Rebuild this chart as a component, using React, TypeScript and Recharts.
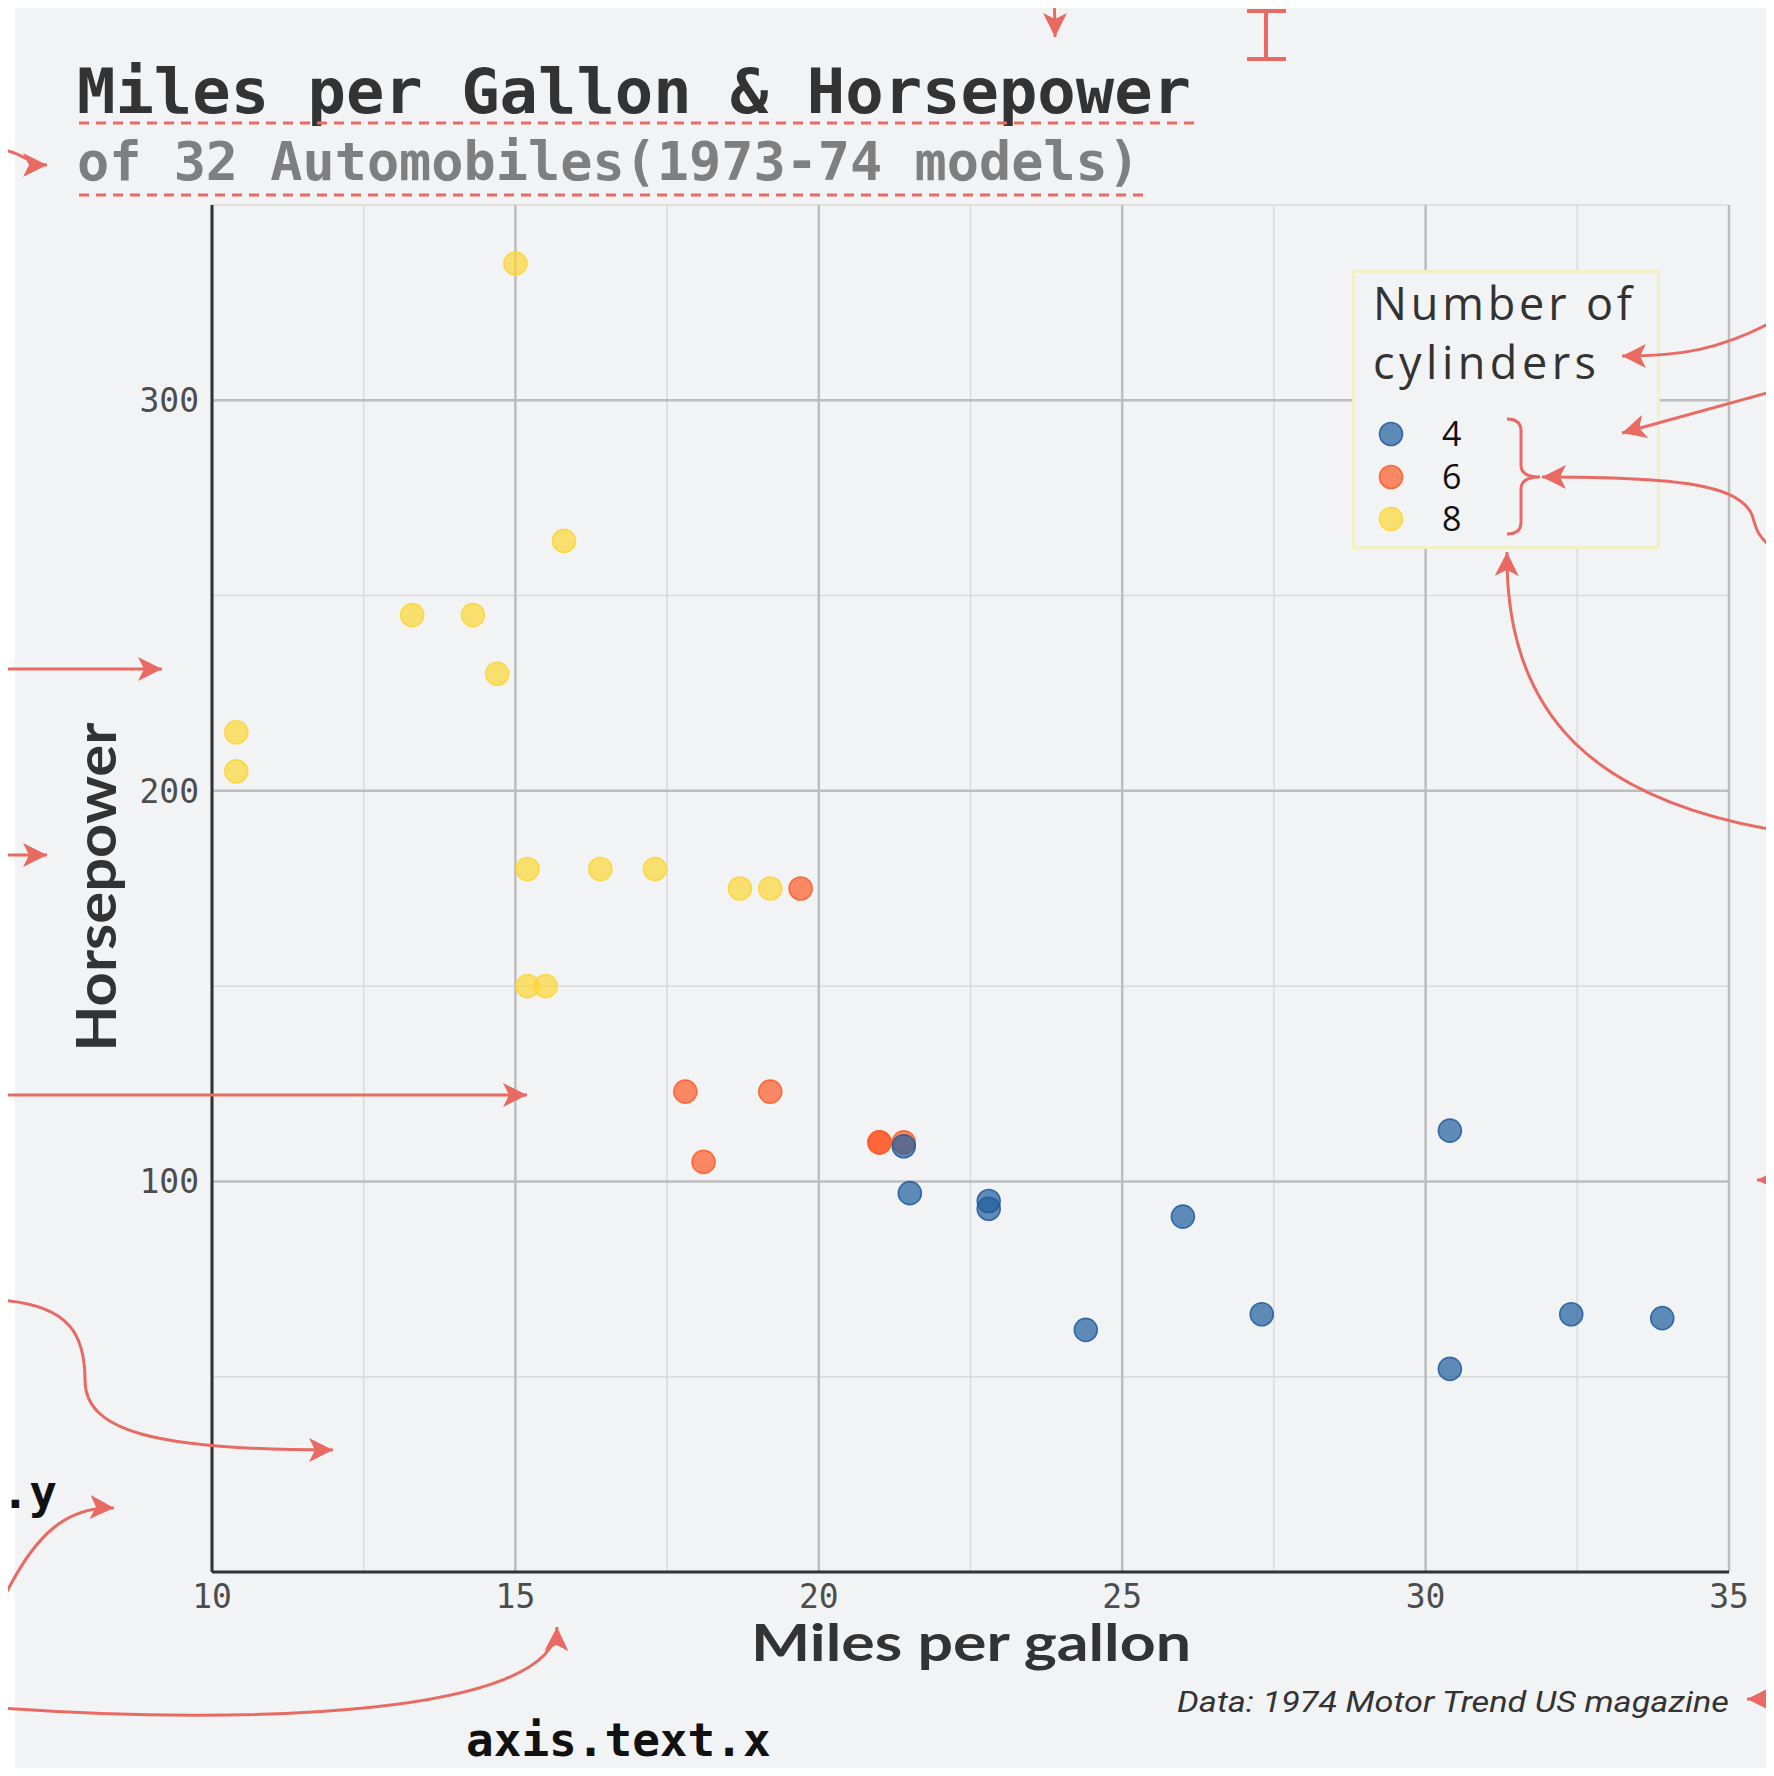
import React from "react";
import {
  ScatterChart,
  Scatter,
  XAxis,
  YAxis,
  ReferenceLine,
  Legend,
} from "recharts";

// ---- data (mtcars: miles per gallon & horsepower) ----
const mpg4 = [22.8, 24.4, 22.8, 32.4, 30.4, 33.9, 21.5, 27.3, 26.0, 30.4, 21.4];
const hp4 = [93, 62, 95, 66, 52, 65, 97, 66, 91, 113, 109];
const mpg6 = [21.0, 21.0, 21.4, 18.1, 19.2, 17.8, 19.7];
const hp6 = [110, 110, 110, 105, 123, 123, 175];
const mpg8 = [18.7, 14.3, 16.4, 17.3, 15.2, 10.4, 10.4, 14.7, 15.5, 15.2, 13.3, 19.2, 15.8, 15.0];
const hp8 = [175, 245, 180, 180, 180, 205, 215, 230, 150, 150, 245, 175, 264, 335];

const cylinders = ["4", "6", "8"];
const cylColors = ["#1f5c9c", "#ff5a26", "#fcd535"];

const xMajorTicks = [10, 15, 20, 25, 30, 35];
const xMinorTicks = [12.5, 17.5, 22.5, 27.5, 32.5];
const yMajorTicks = [100, 200, 300];
const yMinorTicks = [50, 150, 250, 350];
const xDomain = [10, 35];
const yDomain = [0, 350];

const title = "Miles per Gallon & Horsepower";
const subtitle = "of 32 Automobiles(1973-74 models)";
const xTitle = "Miles per gallon";
const yTitle = "Horsepower";
const caption = "Data: 1974 Motor Trend US magazine";
const legendTitle = ["Number of", "cylinders"];

const zip = (xs: number[], ys: number[]) => xs.map((x, i) => ({ mpg: x, hp: ys[i] }));
const data4 = zip(mpg4, hp4);
const data6 = zip(mpg6, hp6);
const data8 = zip(mpg8, hp8);

const PANEL = "#f2f3f5";
const RED = "#e96a63";
const MONO = "'DejaVu Sans Mono', monospace";

const makeDot = (color: string) => (props: any) => {
  const { cx, cy } = props;
  if (cx == null || cy == null) return <g />;
  return (
    <circle
      cx={cx}
      cy={cy}
      r={11.5}
      fill={color}
      fillOpacity={0.7}
      stroke={color}
      strokeOpacity={0.85}
      strokeWidth={1.6}
    />
  );
};

const LegendBox = (props: any) => {
  const payload = (props.payload || []).slice().sort(
    (a: any, b: any) => Number(a.value) - Number(b.value)
  );
  const rowsY = [164, 207, 249];
  return (
    <div
      style={{
        width: 308,
        height: 279,
        boxSizing: "border-box",
        border: "3px solid #f3f0c8",
        background: PANEL,
        position: "relative",
      }}
    >
      <svg width={308} height={279} style={{ position: "absolute", left: -3, top: -3 }}>
        <text x={21} y={50} fontFamily="'Open Sans', sans-serif" fontSize={45} fill="#333" textLength={259} lengthAdjust="spacing">
          {legendTitle[0]}
        </text>
        <text x={21} y={109} fontFamily="'Open Sans', sans-serif" fontSize={45} fill="#333" textLength={223} lengthAdjust="spacing">
          {legendTitle[1]}
        </text>
        {payload.map((p: any, i: number) => (
          <g key={p.value}>
            <circle cx={39} cy={rowsY[i]} r={11.5} fill={p.color} fillOpacity={0.7} stroke={p.color} strokeOpacity={0.85} strokeWidth={1.6} />
            <text x={90} y={rowsY[i] + 12} fontFamily="'Open Sans', sans-serif" fontSize={34} fill="#111">
              {p.value}
            </text>
          </g>
        ))}
      </svg>
    </div>
  );
};

const Overlay = () => (
  <svg
    width={1774}
    height={1776}
    style={{ position: "absolute", left: -8, top: -8, pointerEvents: "none", zIndex: 10 }}
  >
    <defs>
      <marker id="ah" markerUnits="userSpaceOnUse" markerWidth={26} markerHeight={26} refX={24} refY={12} orient="auto" viewBox="0 0 26 26">
        <path d="M0,0 L24,12 L0,24 L6,12 Z" fill={RED} />
      </marker>
    </defs>
    {/* titles */}
    <text x={77} y={113} fontFamily={MONO} fontWeight="bold" fontSize={63} fill="#333" textLength={1114} lengthAdjust="spacingAndGlyphs">
      {title}
    </text>
    <line x1={79} x2={1194} y1={123} y2={123} stroke={RED} strokeWidth={3} strokeDasharray="10 7" />
    <text x={77} y={180} fontFamily={MONO} fontWeight="bold" fontSize={53} fill="#7f7f7f" textLength={1063} lengthAdjust="spacingAndGlyphs">
      {subtitle}
    </text>
    <line x1={79} x2={1143} y1={195} y2={195} stroke={RED} strokeWidth={3} strokeDasharray="10 7" />

    {/* axis titles */}
    <text x={971} y={1661} textAnchor="middle" fontFamily="Lato, sans-serif" fontWeight="bold" fontSize={51} fill="#333" textLength={440} lengthAdjust="spacingAndGlyphs">
      {xTitle}
    </text>
    <g transform="translate(116,887) rotate(-90)">
      <text x={0} y={0} textAnchor="middle" fontFamily="Lato, sans-serif" fontWeight="bold" fontSize={55} fill="#333" textLength={329} lengthAdjust="spacingAndGlyphs">
        {yTitle}
      </text>
    </g>
    <text x={1729} y={1712} textAnchor="end" fontFamily="Roboto, sans-serif" fontStyle="italic" fontSize={30} fill="#333" textLength={552} lengthAdjust="spacingAndGlyphs">
      {caption}
    </text>

    {/* annotation labels */}
    <text x={466} y={1756} fontFamily={MONO} fontWeight="bold" fontSize={46} fill="#111">
      axis.text.x
    </text>
    <text x={57} y={1508} textAnchor="end" fontFamily={MONO} fontWeight="bold" fontSize={46} fill="#111">
      axis.text.y
    </text>

    {/* I-beam */}
    <path d="M1247,11 H1286 M1266,11 V59 M1247,59 H1286" stroke={RED} strokeWidth={4} fill="none" />

    {/* brace */}
    <path
      d="M1507,419 Q1521,419 1521,431 L1521,465 Q1521,477 1540,477 Q1521,477 1521,489 L1521,522 Q1521,534 1507,534"
      stroke={RED}
      strokeWidth={3}
      fill="none"
    />

    {/* arrows */}
    <g stroke={RED} strokeWidth={3} fill="none" markerEnd="url(#ah)">
      <path d="M1054,0 Q1055,18 1055,37" />
      <path d="M0,150 C22,151 28,165 47,165" />
      <path d="M0,669 L162,669" />
      <path d="M0,855 L47,855" />
      <path d="M0,1095 L527,1095" />
      <path d="M0,1300 C70,1305 85,1335 85,1380 C85,1430 150,1450 333,1450" />
      <path d="M0,1606 C35,1530 70,1506 114,1508" />
      <path d="M0,1708 C250,1726 555,1715 557,1627" />
      <path d="M1774,830 C1600,800 1505,720 1507,552" />
      <path d="M1774,549 C1755,535 1756,526 1752,515 C1740,485 1680,477 1542,477" />
      <path d="M1774,321 C1720,350 1680,356 1622,356" />
      <path d="M1774,391 L1622,433" />
      <path d="M1790,1180 L1757,1180" />
      <path d="M1790,1699 L1747,1699" />
    </g>
  </svg>
);

export default function App() {
  const series = [
    { name: cylinders[2], data: data8, color: cylColors[2] },
    { name: cylinders[1], data: data6, color: cylColors[1] },
    { name: cylinders[0], data: data4, color: cylColors[0] },
  ];
  return (
    <div
      style={{
        position: "relative",
        width: 1766,
        height: 1768,
        marginBottom: -8,
        overflow: "visible",
      }}
    >
      <div
        style={{
          position: "absolute",
          left: 7,
          top: 0,
          width: 1759,
          height: 1768,
          background: PANEL,
        }}
      />
      <div style={{ position: "absolute", left: 0, top: 0 }}>
        <ScatterChart
          width={1766}
          height={1768}
          margin={{ top: 197, right: 45, bottom: 144, left: 104 }}
        >
          {xMinorTicks.map((v) => (
            <ReferenceLine key={"xm" + v} x={v} stroke="#dadada" strokeWidth={1.5} />
          ))}
          {yMinorTicks.map((v) => (
            <ReferenceLine key={"ym" + v} y={v} stroke="#dadada" strokeWidth={1.5} />
          ))}
          {xMajorTicks.map((v) => (
            <ReferenceLine key={"xM" + v} x={v} stroke="#bdbdbd" strokeWidth={2.5} />
          ))}
          {yMajorTicks.map((v) => (
            <ReferenceLine key={"yM" + v} y={v} stroke="#bdbdbd" strokeWidth={2.5} />
          ))}
          <XAxis
            type="number"
            dataKey="mpg"
            domain={xDomain}
            ticks={xMajorTicks}
            allowDataOverflow
            height={60}
            tickLine={false}
            tickSize={0}
            tickMargin={13}
            axisLine={{ stroke: "#333", strokeWidth: 3 }}
            tick={{ fontFamily: MONO, fontSize: 33, fill: "#4d4d4d" }}
          />
          <YAxis
            type="number"
            dataKey="hp"
            domain={yDomain}
            ticks={yMajorTicks}
            allowDataOverflow
            width={100}
            tickLine={false}
            tickSize={0}
            tickMargin={13}
            axisLine={{ stroke: "#333", strokeWidth: 3 }}
            tick={{ fontFamily: MONO, fontSize: 33, fill: "#4d4d4d" }}
          />
          {series.map((s) => (
            <Scatter
              key={s.name}
              name={s.name}
              data={s.data}
              fill={s.color}
              shape={makeDot(s.color)}
              isAnimationActive={false}
            />
          ))}
          <Legend
            layout="vertical"
            align="center"
            verticalAlign="middle"
            content={<LegendBox />}
            wrapperStyle={{ position: "absolute", left: 1344, top: 262, width: 308, height: 279 }}
          />
        </ScatterChart>
      </div>
      <Overlay />
    </div>
  );
}
